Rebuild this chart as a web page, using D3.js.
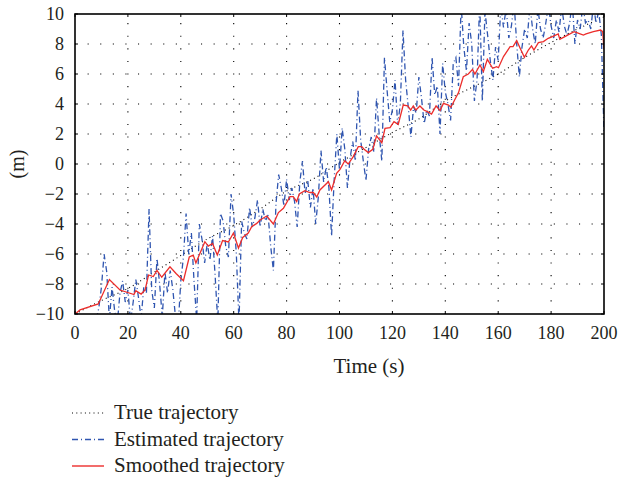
<!DOCTYPE html>
<html><head><meta charset="utf-8">
<script src="https://cdn.jsdelivr.net/npm/d3@7"></script>
<style>
body{margin:0;background:#fff;}
text{font-family:"Liberation Serif","Times New Roman",serif;fill:#231f20;}
</style></head>
<body><svg id="c" width="619" height="477"></svg>
<script>
// ---- data ----
const xTicks = [0,20,40,60,80,100,120,140,160,180,200];
const yTicks = [-10,-8,-6,-4,-2,0,2,4,6,8,10];
const legendLabels = ["True trajectory","Estimated trajectory","Smoothed trajectory"];

const trueTime  = [0,10,20,30,40,50,60,70,80,90,100,110,120,130,140,150,160,170,180,190,200];
const trueValue = [-10,-9.1,-8.3,-7.2,-6.1,-5.0,-4.1,-3.0,-1.8,-1.0,0.1,1.1,2.1,3.0,4.2,5.1,6.0,7.1,8.1,9.0,9.8];

const estValue = [
-10,-10.6,-10.2,-11,-10.8,-11.2,-10.6,-11,-10.4,-9.6,
-8.2,-6.0,-7.2,-10.4,-8.2,-9.8,-10.6,-8.6,-7.8,-9.2,
-8.4,-10.5,-9.2,-7.7,-8.9,-10.3,-8.2,-8.6,-3.0,-8.4,
-9.6,-6.3,-8.0,-10.2,-7.2,-8.6,-7.1,-8.4,-10.2,-10.8,
-7.8,-6.2,-3.3,-6.0,-4.6,-7.8,-10.4,-4.0,-5.0,-6.6,
-5.3,-6.4,-4.8,-7.5,-10.6,-3.3,-3.8,-5.5,-6.2,-2.0,
-3.4,-6.0,-10.6,-3.8,-4.6,-5.0,-2.9,-4.2,-3.6,-2.4,
-4.2,-3.0,-3.8,-3.4,-5.5,-7.1,-2.6,-0.7,-1.6,-2.8,
-1.0,-2.4,-1.6,-2.5,-4.2,-1.2,0.2,-2.0,-1.1,-2.9,
-1.6,-4.0,-2.2,0.9,-1.2,-0.2,-1.6,-4.8,-1.0,2.0,
-0.4,2.4,1.0,-1.6,0.4,1.5,0.2,4.9,1.6,0.2,
-1.1,1.0,1.8,0.8,4.4,2.0,0.2,7.1,4.9,2.8,
3.6,5.6,2.6,4.0,8.9,5.6,3.8,1.8,3.8,3.4,
5.8,4.4,2.7,3.6,3.2,7.1,4.6,5.2,2.0,6.7,
4.8,4.0,2.9,6.7,7.1,5.2,10.6,7.8,6.2,9.4,
8.0,4.2,5.6,10.8,4.2,10.2,8.6,6.9,5.6,7.8,
6.9,10.6,9.1,10.4,8.4,9.2,10.8,8.0,5.8,7.8,
9.0,8.4,10.6,9.0,8.0,10.4,9.0,8.4,9.4,10.6,
9.2,8.4,9.6,8.8,10.5,9.2,8.6,9.4,10.8,8.0,
9.6,9.0,10.6,9.4,9.6,9.0,10.6,9.4,10.2,8.6,
2.1];
const estTime = d3.range(estValue.length);

const smoothTime = [0,1.9,8.8,13,17,22.3,23,25,26.5,27.8,29.6,31,32.8,35.9,38.2,41,43.2,44.7,45.7,49.1,50.4,52,53.8,55.8,58,59.9,61.8,63.4,65.5,66.8,68.7,70,72.5,75,76.9,78.8,81.3,82.5,83.8,84.8,86.9,88.8,90.1,91.4,92.6,95.8,97,98.9,100.2,102,103.3,105.2,107.1,108.4,109.3,110.9,112.6,114,116,117.2,119.1,120.6,122.2,124.1,125.8,126.9,127.9,128.9,130.4,131.9,133.2,134.8,136.5,138,139.3,141.2,142.1,145,146.8,148.7,150.3,151.2,153.1,154.4,155.9,157.9,159.4,160.1,162,164.5,165.6,167,168.3,169.9,171.4,172.6,173.5,175.2,177.1,178.9,180.5,182.7,183.3,185.2,188.7,189.7,192.2,193.2,196,198.7,199.5,200];
const smoothValue = [-10,-9.73,-9.33,-7.7,-8.4,-8.7,-8.45,-8.67,-8.4,-7.4,-7.5,-7.1,-7.55,-6.85,-7.3,-7.78,-6.2,-6.07,-6.6,-5.18,-5.47,-5.3,-6.07,-5.1,-5.2,-4.6,-5.6,-4.9,-4.6,-4.18,-3.96,-3.73,-3.47,-4.0,-3.24,-2.95,-2.18,-2.18,-2.5,-2.0,-1.78,-1.9,-1.9,-2.2,-1.73,-1.18,-1.73,-0.62,-0.36,0.22,0.0,0.49,1.16,1.16,0.98,0.76,0.98,1.87,1.42,2.38,2.42,2.82,2.64,3.93,3.87,3.6,3.87,3.6,3.87,3.6,3.49,3.33,3.87,3.56,4.04,3.93,3.78,4.76,5.82,6.0,6.31,6.0,6.6,6.16,6.98,6.38,6.49,6.42,7.16,7.82,7.82,8.22,7.71,7.11,7.6,7.87,7.6,8.09,8.16,8.38,8.49,8.67,8.31,8.49,8.82,8.76,8.6,8.67,8.82,8.93,8.82,7.64];

// ---- drawing ----
const svg = d3.select("#c");
const L=75, R=604, T=14, B=314;
const x = d3.scaleLinear().domain([0,200]).range([L,R]);
const y = d3.scaleLinear().domain([-10,10]).range([B,T]);

svg.append("defs").append("clipPath").attr("id","clip")
  .append("rect").attr("x",L).attr("y",T).attr("width",R-L).attr("height",B-T);

// grid
const grid = svg.append("g");
grid.selectAll(".gx").data(xTicks.slice(1,-1)).enter().append("line")
  .attr("x1",d=>x(d)).attr("x2",d=>x(d)).attr("y1",B).attr("y2",T)
  .attr("stroke","#000").attr("stroke-width",1.1).attr("stroke-dasharray","1.1,11.5");
grid.selectAll(".gy").data(yTicks.slice(1,-1)).enter().append("line")
  .attr("y1",d=>y(d)).attr("y2",d=>y(d)).attr("x1",L).attr("x2",R)
  .attr("stroke","#000").attr("stroke-width",1.1).attr("stroke-dasharray","1.1,11.5");

const plot = svg.append("g").attr("clip-path","url(#clip)");

const trueData = trueTime.map((t,i)=>[t,trueValue[i]]);
const estData = estTime.map((t,i)=>[t,estValue[i]]);
const smData = smoothTime.map((t,i)=>[t,smoothValue[i]]);

plot.append("path").datum(trueData)
  .attr("d", d3.line().x(d=>x(d[0])).y(d=>y(d[1])).curve(d3.curveMonotoneX))
  .attr("fill","none").attr("stroke","#000").attr("stroke-width",1.1).attr("stroke-dasharray","1,3.3");

plot.append("path").datum(estData)
  .attr("d", d3.line().x(d=>x(d[0])).y(d=>y(d[1])))
  .attr("fill","none").attr("stroke","#2f55b0").attr("stroke-width",1.3).attr("stroke-dasharray","6,3,1,3");

plot.append("path").datum(smData)
  .attr("d", d3.line().x(d=>x(d[0])).y(d=>y(d[1])))
  .attr("fill","none").attr("stroke","#ec2d2b").attr("stroke-width",1.3);

// frame
svg.append("rect").attr("x",L).attr("y",T).attr("width",R-L).attr("height",B-T)
  .attr("fill","none").attr("stroke","#000").attr("stroke-width",1.6);

// inward ticks
const tk = svg.append("g").attr("stroke","#000").attr("stroke-width",1);
xTicks.forEach(d=>{
  tk.append("line").attr("x1",x(d)).attr("x2",x(d)).attr("y1",B).attr("y2",B-3);
  tk.append("line").attr("x1",x(d)).attr("x2",x(d)).attr("y1",T).attr("y2",T+3);
});
yTicks.forEach(d=>{
  tk.append("line").attr("y1",y(d)).attr("y2",y(d)).attr("x1",L).attr("x2",L+3);
  tk.append("line").attr("y1",y(d)).attr("y2",y(d)).attr("x1",R).attr("x2",R-3);
});

// tick labels
const fmt = v => v<0 ? "\u2212"+Math.abs(v) : String(v);
svg.append("g").selectAll("text").data(xTicks).enter().append("text")
  .attr("x",d=>x(d)).attr("y",B+25).attr("text-anchor","middle")
  .attr("font-size",18).text(fmt);
svg.append("g").selectAll("text").data(yTicks).enter().append("text")
  .attr("x",L-11).attr("y",d=>y(d)+6).attr("text-anchor","end")
  .attr("font-size",18).text(fmt);

svg.append("text").attr("x",369).attr("y",373).attr("text-anchor","middle")
  .attr("font-size",21).text("Time (s)");
svg.append("text").attr("transform","translate(24,164) rotate(-90)")
  .attr("text-anchor","middle").attr("font-size",20).text("(m)");

// legend
const lg = svg.append("g");
const styles = [
  {stroke:"#000", dash:"1,3.3", w:1.1},
  {stroke:"#2f55b0", dash:"6,3,1,3", w:1.4},
  {stroke:"#ec2d2b", dash:null, w:1.4}
];
legendLabels.forEach((lab,i)=>{
  const yy = 413 + i*26.5;
  lg.append("line").attr("x1",72).attr("x2",104).attr("y1",yy).attr("y2",yy)
    .attr("stroke",styles[i].stroke).attr("stroke-width",styles[i].w)
    .attr("stroke-dasharray",styles[i].dash);
  lg.append("text").attr("x",114).attr("y",yy+6).attr("font-size",21).text(lab);
});
</script></body></html>
